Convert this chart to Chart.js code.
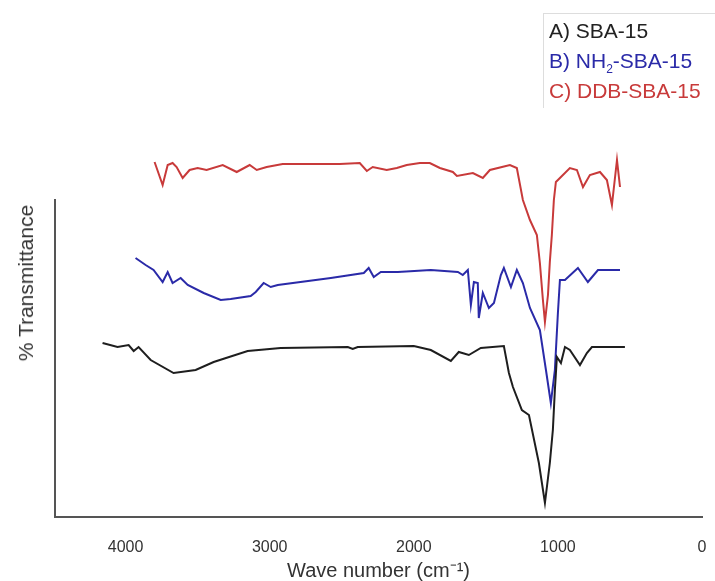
<!DOCTYPE html>
<html>
<head>
<meta charset="utf-8">
<script src="https://cdn.jsdelivr.net/npm/chart.js@4.4.1/dist/chart.umd.min.js"></script>
<style>
  body { margin: 0; background: #fff; }
  #wrap { position: relative; width: 715px; height: 581px; overflow: hidden; font-family: "Liberation Sans", Arial, sans-serif; }
  #legend { position: absolute; left: 543px; top: 13px; width: 190px; padding: 2px 5px; border-left: 1px solid #ddd; border-top: 1px solid #ddd; font-size: 21px; line-height: 30px; }
  #legend sub { font-size: 12px; line-height: 0; }
  #ytitle { position: absolute; left: 26px; top: 283px; transform: translate(-50%, -50%) rotate(-90deg); font-size: 21px; color: #333; white-space: nowrap; }
</style>
</head>
<body>
<div id="wrap">
  <canvas id="ftir" width="715" height="581"></canvas>
  <div id="legend">
    <div style="color:#222">A) SBA-15</div>
    <div style="color:#2a2aa8">B) NH<sub>2</sub>-SBA-15</div>
    <div style="color:#c83a3a">C) DDB-SBA-15</div>
  </div>
  <div id="ytitle">% Transmittance</div>
</div>
<script>
// x tick labels (wave number, cm-1)
var xTicks = [4000, 3000, 2000, 1000, 0];

// A) SBA-15
var waveA = [4160, 4056, 3979, 3944, 3910, 3826, 3667, 3514, 3389, 3153, 2924, 2458, 2424, 2389, 2000, 1882, 1743, 1688, 1618, 1535, 1375, 1340, 1312, 1250, 1201, 1132, 1090, 1056, 1035, 1021, 1007, 979, 951, 917, 847, 799, 764, 729, 639, 535];
var transA = [174, 170, 172, 166, 170, 157, 144, 147, 155, 166, 169, 170, 168, 170, 171, 167, 156, 165, 162, 169, 171, 144, 130, 107, 102, 54, 14, 54, 87, 127, 160, 154, 170, 167, 152, 164, 170, 170, 170, 170];

// B) NH2-SBA-15
var waveB = [3931, 3861, 3806, 3743, 3708, 3674, 3618, 3569, 3458, 3340, 3271, 3132, 3097, 3042, 2993, 2944, 2576, 2347, 2313, 2278, 2229, 2111, 1882, 1694, 1660, 1625, 1604, 1583, 1556, 1549, 1521, 1479, 1444, 1396, 1375, 1326, 1285, 1243, 1194, 1125, 1083, 1049, 1021, 1000, 986, 951, 861, 792, 722, 569];
var transB = [259, 252, 247, 235, 245, 234, 239, 232, 224, 217, 218, 221, 225, 234, 230, 232, 239, 244, 249, 240, 245, 245, 247, 245, 242, 247, 212, 235, 234, 199, 224, 209, 214, 242, 249, 230, 247, 234, 209, 187, 147, 114, 147, 204, 237, 237, 249, 235, 247, 247];

// C) DDB-SBA-15
var waveC = [3799, 3743, 3708, 3674, 3646, 3604, 3556, 3500, 3438, 3326, 3229, 3139, 3090, 3021, 2910, 2743, 2514, 2375, 2326, 2285, 2188, 2118, 2049, 1958, 1889, 1819, 1729, 1701, 1590, 1521, 1472, 1333, 1285, 1243, 1194, 1146, 1125, 1104, 1090, 1069, 1056, 1042, 1028, 1014, 986, 917, 868, 826, 778, 708, 660, 625, 590, 569];
var transC = [355, 332, 352, 354, 350, 339, 347, 349, 347, 352, 345, 352, 347, 350, 353, 353, 353, 354, 346, 350, 347, 349, 352, 354, 354, 349, 345, 341, 344, 339, 347, 352, 349, 317, 297, 282, 254, 217, 195, 222, 255, 282, 317, 335, 339, 349, 347, 330, 342, 345, 337, 312, 357, 330];

function pts(xs, ys) {
  return xs.map(function (x, i) { return { x: x, y: ys[i] }; });
}

var fam = '"Liberation Sans", Arial, sans-serif';

new Chart(document.getElementById('ftir'), {
  type: 'line',
  data: {
    datasets: [
      { label: 'A) SBA-15', data: pts(waveA, transA), borderColor: '#1e1e1e', borderWidth: 2, clip: false },
      { label: 'B) NH2-SBA-15', data: pts(waveB, transB), borderColor: '#2a2aa8', borderWidth: 2, clip: false },
      { label: 'C) DDB-SBA-15', data: pts(waveC, transC), borderColor: '#c83a3a', borderWidth: 2, clip: false }
    ]
  },
  options: {
    responsive: false,
    animation: false,
    elements: { point: { radius: 0 }, line: { tension: 0 } },
    layout: { padding: { left: 0, right: 13, top: 200, bottom: 0 } },
    plugins: { legend: { display: false }, tooltip: { enabled: false } },
    scales: {
      x: {
        type: 'linear',
        reverse: true,
        min: 0,
        max: 4490,
        afterBuildTicks: function (s) { s.ticks = xTicks.map(function (v) { return { value: v }; }); },
        afterFit: function (s) { s.height = 64; },
        grid: { drawOnChartArea: false, drawTicks: true, tickLength: 18, tickColor: 'rgba(0,0,0,0)' },
        border: { color: '#555', width: 2 },
        ticks: { color: '#333', font: { family: fam, size: 16 }, padding: 3, maxRotation: 0,
          callback: function (v) { return String(v); } },
        title: { display: true, text: 'Wave number (cm⁻¹)', color: '#333', font: { family: fam, size: 20, lineHeight: 1 }, padding: { top: 0, bottom: 0 } }
      },
      y: {
        min: 0,
        max: 317,
        afterFit: function (s) { s.width = 55; },
        grid: { drawOnChartArea: false, drawTicks: false },
        border: { color: '#555', width: 2 },
        ticks: { display: false }
      }
    }
  }
});
</script>
</body>
</html>
